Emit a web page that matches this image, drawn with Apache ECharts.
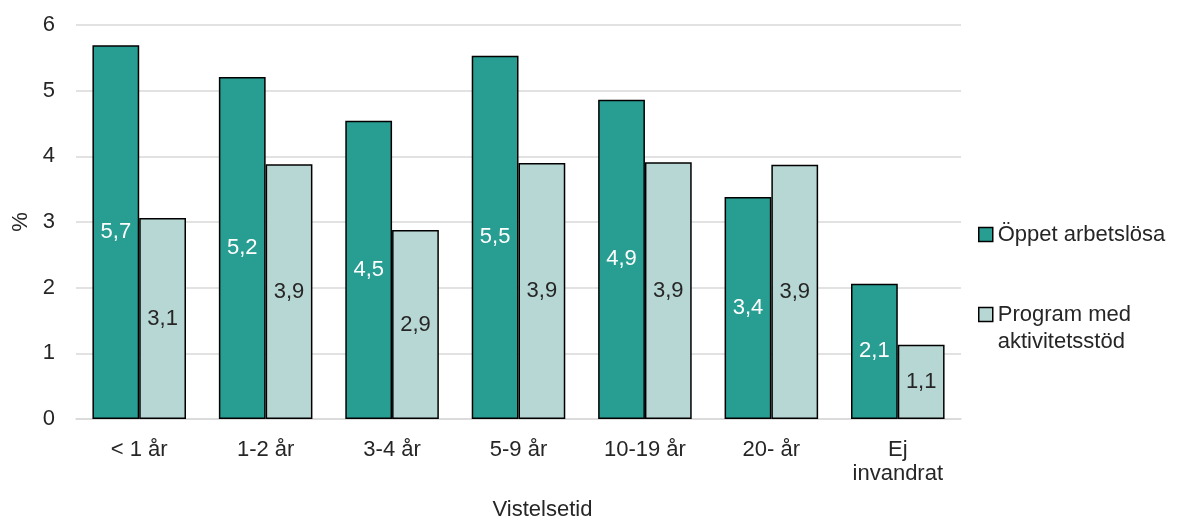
<!DOCTYPE html>
<html>
<head>
<meta charset="utf-8">
<script src="https://cdn.jsdelivr.net/npm/echarts@6/dist/echarts.min.js"></script>
<style>html,body{margin:0;padding:0;background:#fff;}#c{width:1181px;height:520px;}</style>
</head>
<body>
<div id="c"></div>
<script>
const categories = ['< 1 år', '1-2 år', '3-4 år', '5-9 år', '10-19 år', '20- år', 'Ej\ninvandrat'];
const oppetArbetslosa = [5.69, 5.21, 4.54, 5.53, 4.86, 3.38, 2.06];
const programAktivitetsstod = [3.06, 3.88, 2.88, 3.90, 3.91, 3.87, 1.13];
const yTicks = [0, 1, 2, 3, 4, 5, 6];
const seriesNames = ['Öppet arbetslösa', 'Program med aktivitetsstöd'];

const font = 'Liberation Sans, Arial, sans-serif';
const fs = 22;
const fmt = p => p.value.toFixed(1).replace('.', ',');

const chart = echarts.init(document.getElementById('c'));
chart.setOption({
  animation: false,
  textStyle: { fontFamily: font },
  grid: { left: 76, right: 220, top: 25, bottom: 101, outerBoundsMode: 'none', containLabel: false },
  legend: {
    orient: 'vertical',
    left: 978,
    top: 221,
    padding: 0,
    icon: 'rect',
    itemWidth: 14,
    itemHeight: 14,
    itemGap: 26,
    textGap: 5,
    itemStyle: { borderColor: '#000', borderWidth: 1.5 },
    textStyle: { fontSize: fs, color: '#262626', fontFamily: font, lineHeight: 27 },
    data: [seriesNames[0], seriesNames[1]],
    formatter: n => n === seriesNames[1] ? ' \nProgram med\naktivitetsstöd' : n
  },
  xAxis: {
    type: 'category',
    data: categories,
    name: 'Vistelsetid',
    nameLocation: 'middle',
    nameGap: 80,
    nameTextStyle: { fontSize: fs, color: '#262626', fontFamily: font, padding: [0, 0, 0, 48] },
    axisLine: { show: true, lineStyle: { color: '#d9d9d9', width: 1.5 } },
    axisTick: { show: false },
    axisLabel: { fontSize: fs, color: '#262626', margin: 19, lineHeight: 24, fontFamily: font }
  },
  yAxis: {
    type: 'value',
    min: yTicks[0],
    max: yTicks[yTicks.length - 1],
    interval: 1,
    name: '%',
    nameLocation: 'middle',
    nameGap: 44,
    nameRotate: 90,
    nameTextStyle: { fontSize: fs, color: '#262626', fontFamily: font },
    axisLine: { show: false },
    axisTick: { show: false },
    axisLabel: { fontSize: fs, color: '#262626', margin: 21, fontFamily: font },
    splitLine: { lineStyle: { color: '#d9d9d9', width: 1.5 } }
  },
  series: [
    {
      name: seriesNames[0],
      type: 'bar',
      data: oppetArbetslosa,
      barGap: '0%',
      barCategoryGap: '26%',
      itemStyle: { color: '#289e93', borderColor: '#000', borderWidth: 1.5 },
      label: { show: true, position: 'inside', color: '#fff', fontSize: fs, fontFamily: font, formatter: fmt }
    },
    {
      name: seriesNames[1],
      type: 'bar',
      data: programAktivitetsstod,
      barGap: '0%',
      barCategoryGap: '26%',
      itemStyle: { color: '#b7d7d4', borderColor: '#000', borderWidth: 1.5 },
      label: { show: true, position: 'inside', color: '#262626', fontSize: fs, fontFamily: font, formatter: fmt }
    }
  ]
});
</script>
</body>
</html>
